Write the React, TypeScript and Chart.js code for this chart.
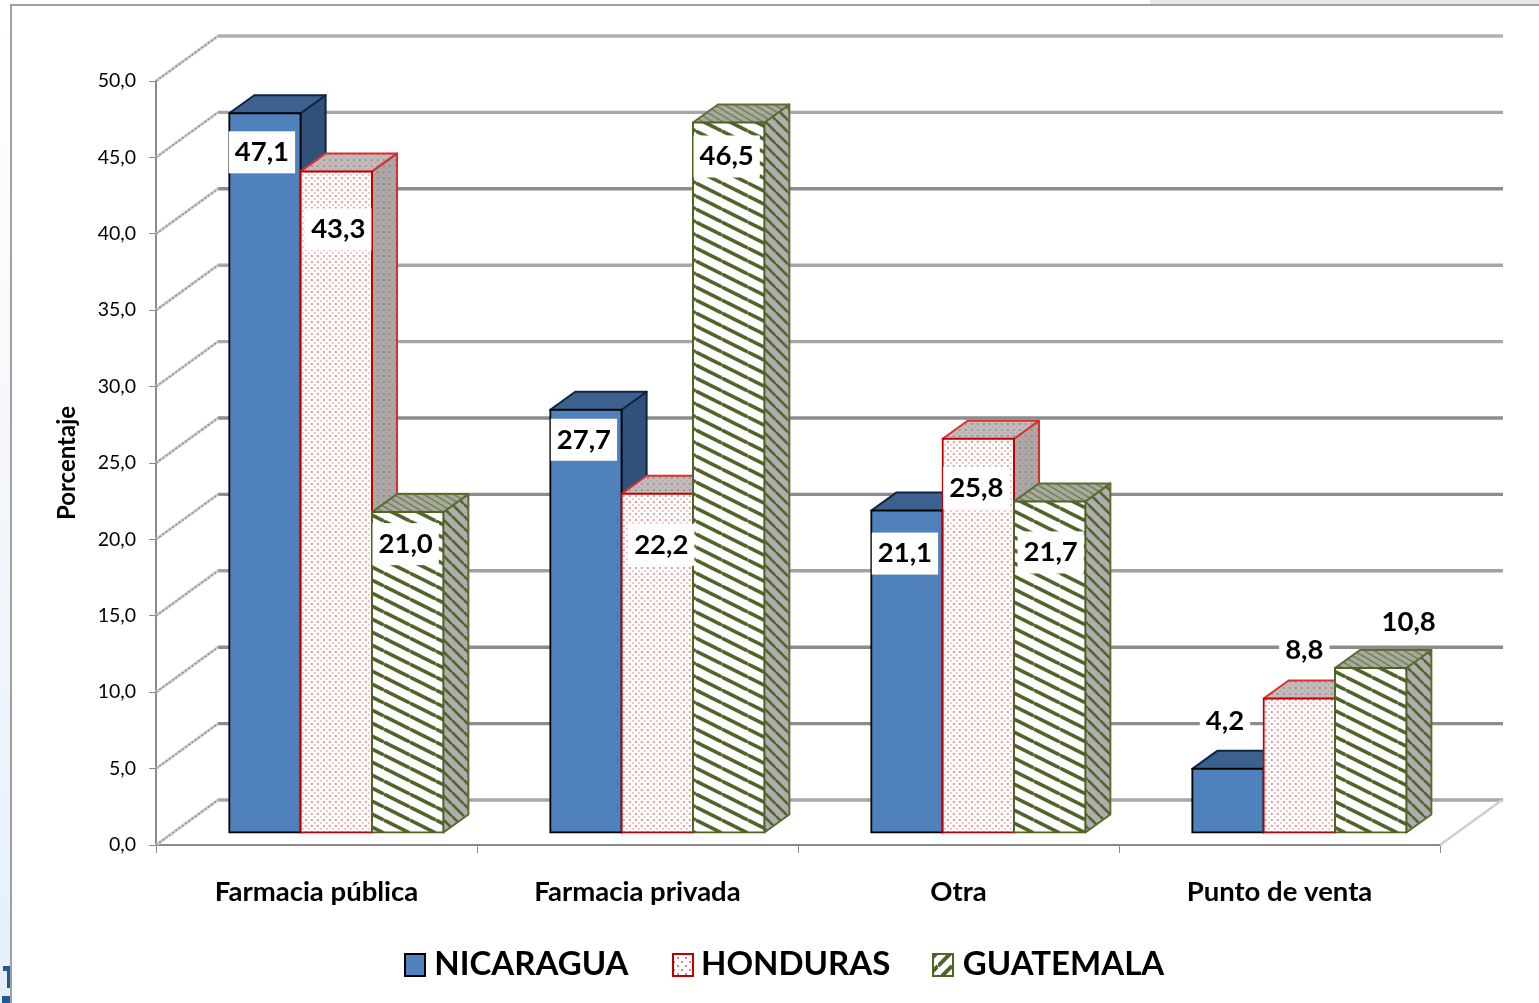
import React, { useEffect, useRef } from "react";
import { Chart, registerables } from "chart.js";

Chart.register(...registerables);

const categories = ["Farmacia pública", "Farmacia privada", "Otra", "Punto de venta"];
const nicaragua = [47.1, 27.7, 21.1, 4.2];
const honduras = [43.3, 22.2, 25.8, 8.8];
const guatemala = [21.0, 46.5, 21.7, 10.8];
const seriesNames = ["NICARAGUA", "HONDURAS", "GUATEMALA"];

const FONT = "Lato, 'Open Sans', sans-serif";
const WALL = { dx: 62, dy: -45 };
const SHIFT = { dx: 19.8, dy: -12 };
const DEPTH = { dx: 25, dy: -18 };
// manual placement of the value labels relative to bar top centre
const labelNudges = [
  [[-3, 39], [-2, 30], [-2, 43], [-3, -48]],
  [[2, 58], [4, 51], [-2, 49], [5, -48]],
  [[-2, 32], [-2, 34], [1, 51], [38, -46]],
];
const swatchLefts = [404, 672, 932];
const gridShades = ["#a6a6a6", "#8c8c8c", "#8c8c8c", "#a0a0a0", "#8c8c8c", "#8c8c8c", "#a6a6a6", "#a6a6a6", "#8c8c8c", "#a6a6a6", "#b0b0b0"];

const fmt = (v: number) => v.toFixed(1).replace(".", ",");

function tile(w: number, h: number, paint: (c: CanvasRenderingContext2D) => void) {
  const cv = document.createElement("canvas");
  cv.width = w;
  cv.height = h;
  const c = cv.getContext("2d")!;
  paint(c);
  return c.createPattern(cv, "repeat")!;
}
const dots = (bg: string, a: string, b: string) =>
  tile(6, 6, (c) => {
    c.fillStyle = bg;
    c.fillRect(0, 0, 6, 6);
    c.fillStyle = a;
    c.fillRect(0, 0, 2, 2);
    c.fillStyle = b;
    c.fillRect(3, 3, 2, 2);
  });
const stripes = (bg: string, fg: string, w: number, h: number, lw: number, rising = false) =>
  tile(w, h, (c) => {
    c.fillStyle = bg;
    c.fillRect(0, 0, w, h);
    c.strokeStyle = fg;
    c.lineWidth = lw;
    for (const k of [-1, 0, 1]) {
      c.beginPath();
      if (rising) {
        c.moveTo(0, h + k * h);
        c.lineTo(w, k * h);
      } else {
        c.moveTo(0, k * h);
        c.lineTo(w, h + k * h);
      }
      c.stroke();
    }
  });

export default function App() {
  const ref = useRef<HTMLCanvasElement>(null);
  useEffect(() => {
    const styles = [
      {
        front: "#4f81bd",
        side: "#31507a",
        top: "#3c618e",
        edge: "#000000",
        faceEdge: "#0f2544",
        swatch: "#4f81bd",
      },
      {
        front: dots("#ffffff", "#f0c4c4", "#e09a9a"),
        side: dots("#a9a9a9", "#b89a9a", "#a58585"),
        top: dots("#bdbdbd", "#c8a8a8", "#b08e8e"),
        edge: "#c00000",
        faceEdge: "#d83030",
        swatch: tile(8, 8, (c) => {
          c.fillStyle = "#fff";
          c.fillRect(0, 0, 8, 8);
          c.fillStyle = "#d88";
          c.fillRect(1, 1, 2, 2);
          c.fillRect(5, 5, 2, 2);
        }),
      },
      {
        front: stripes("#ffffff", "#4f6228", 26, 13, 3.6),
        side: stripes("#aeaeae", "#4f6228", 12, 12, 2.6),
        top: stripes("#a8ab9c", "#6f7d58", 10, 6, 1.5),
        edge: "#4f6228",
        faceEdge: "#5a6e33",
        swatch: stripes("#ffffff", "#4f6228", 14, 14, 4, true),
      },
    ];

    const scene = {
      id: "scene3d",
      afterLayout(chart: any) {
        const lg = chart.legend;
        const dx = 784 - (lg.left + lg.right) / 2;
        const dy = 906 - lg.top;
        lg.left += dx;
        lg.right += dx;
        lg.top += dy;
        lg.bottom = 1003;
      },
      beforeDraw(chart: any) {
        const c = chart.ctx;
        c.save();
        c.fillStyle = "#ffffff";
        c.fillRect(0, 0, 1539, 1003);
        const g = c.createLinearGradient(0, 0, 0, 1003);
        g.addColorStop(0, "#ffffff");
        g.addColorStop(1, "#e6eff8");
        c.fillStyle = g;
        c.fillRect(0, 0, 10, 1003);
        c.fillStyle = "#e4e6e8";
        c.fillRect(1150, 0, 389, 4);
        c.fillStyle = "#a0a0a0";
        c.fillRect(10, 4, 1529, 2);
        c.fillRect(10, 4, 2, 999);
        c.fillStyle = "#1f5a96";
        c.fillRect(3, 966, 7, 5);
        c.fillRect(7, 966, 3, 22);
        c.fillRect(2, 996, 8, 7);
        c.restore();
      },
      beforeDatasetsDraw(chart: any) {
        const c = chart.ctx;
        const y = chart.scales.y;
        const { left, right } = chart.chartArea;
        c.save();
        // side wall and back wall lines
        y.ticks.forEach((t: any, i: number) => {
          const p = y.getPixelForValue(t.value);
          c.lineWidth = 3.4;
          c.strokeStyle = gridShades[i % gridShades.length];
          c.beginPath();
          c.moveTo(left + WALL.dx, p + WALL.dy);
          c.lineTo(right + WALL.dx + 1, p + WALL.dy);
          c.stroke();
          c.lineWidth = 3;
          c.strokeStyle = "#cfcfcf";
          c.beginPath();
          c.moveTo(left, p);
          c.lineTo(left + WALL.dx, p + WALL.dy);
          c.stroke();
          c.strokeStyle = "#8f8f8f";
          c.setLineDash([2, 2]);
          c.lineWidth = 1.5;
          c.beginPath();
          c.moveTo(left, p);
          c.lineTo(left + WALL.dx, p + WALL.dy);
          c.stroke();
          c.setLineDash([]);
        });
        // floor edge on the right
        const p0 = y.getPixelForValue(0);
        c.strokeStyle = "#cfcfcf";
        c.lineWidth = 2.5;
        c.beginPath();
        c.moveTo(right, p0);
        c.lineTo(right + WALL.dx, p0 + WALL.dy);
        c.stroke();

        // bars, left to right, each with its top and side face
        chart.data.datasets.forEach((_: any, di: number) => {
          const st = styles[di];
          chart.getDatasetMeta(di).data.forEach((el: any) => {
            const { x, y: top, base, width } = el.getProps(["x", "y", "base", "width"], true);
            const l = x - width / 2;
            const r = x + width / 2;
            c.save();
            c.translate(SHIFT.dx, SHIFT.dy);
            c.lineJoin = "round";
            c.lineWidth = 2;
            c.strokeStyle = st.faceEdge;
            c.fillStyle = st.side;
            c.beginPath();
            c.moveTo(r, top);
            c.lineTo(r + DEPTH.dx, top + DEPTH.dy);
            c.lineTo(r + DEPTH.dx, base + DEPTH.dy);
            c.lineTo(r, base);
            c.closePath();
            c.fill();
            c.stroke();
            c.fillStyle = st.top;
            c.beginPath();
            c.moveTo(l, top);
            c.lineTo(l + DEPTH.dx, top + DEPTH.dy);
            c.lineTo(r + DEPTH.dx, top + DEPTH.dy);
            c.lineTo(r, top);
            c.closePath();
            c.fill();
            c.stroke();
            el.draw(c);
            c.restore();
          });
        });

        // value labels on white plates
        c.font = `bold 27.5px ${FONT}`;
        c.textAlign = "center";
        c.textBaseline = "middle";
        chart.data.datasets.forEach((ds: any, di: number) => {
          chart.getDatasetMeta(di).data.forEach((el: any, k: number) => {
            const { x, y: top } = el.getProps(["x", "y"], true);
            const [nx, ny] = labelNudges[di][k];
            const cx = x + SHIFT.dx + nx;
            const cy = top + SHIFT.dy + ny;
            const text = fmt(ds.data[k]);
            const w = c.measureText(text).width + 12;
            c.fillStyle = "#ffffff";
            c.fillRect(cx - w / 2, cy - 21, w, 42);
            c.fillStyle = "#000000";
            c.fillText(text, cx, cy);
          });
        });
        c.restore();
        return false;
      },
      afterDraw(chart: any) {
        // legend swatches, drawn beside the legend's own text
        const c = chart.ctx;
        swatchLefts.forEach((bx, i) => {
          const st = styles[i];
          const by = 953;
          c.save();
          c.fillStyle = st.swatch;
          c.fillRect(bx, by, 22, 24);
          c.strokeStyle = st.edge;
          c.lineWidth = 2;
          c.strokeRect(bx + 1, by + 1, 20, 22);
          c.restore();
        });
      },
    };

    const mk = (label: string, data: number[], i: number) => ({
      label,
      data,
      backgroundColor: styles[i].front,
      borderColor: styles[i].edge,
      borderWidth: 2,
      borderSkipped: false,
      inflateAmount: 1,
      categoryPercentage: 0.667,
      barPercentage: 1,
    });

    const chart = new Chart(ref.current!, {
      type: "bar",
      data: {
        labels: categories,
        datasets: [
          mk(seriesNames[0], nicaragua, 0),
          mk(seriesNames[1], honduras, 1),
          mk(seriesNames[2], guatemala, 2),
        ],
      },
      plugins: [scene],
      options: {
        responsive: false,
        animation: false,
        devicePixelRatio: 1,
        layout: { padding: { left: 48, right: 99, top: 81, bottom: 0 } },
        plugins: {
          tooltip: { enabled: false },
          legend: {
            position: "bottom",
            labels: {
              boxWidth: 14,
              boxHeight: 24,
              padding: 42,
              color: "#000",
              font: { family: FONT, weight: "bold", size: 33 },
              generateLabels: () =>
                seriesNames.map((text, i) => ({
                  text,
                  datasetIndex: i,
                  fillStyle: "rgba(0,0,0,0)",
                  strokeStyle: "rgba(0,0,0,0)",
                  lineWidth: 0,
                  fontColor: "#000",
                })),
            },
          },
        },
        scales: {
          x: {
            afterFit(s: any) {
              s.height = Math.max(4, 158 - (s.chart.legend?.height ?? 0));
            },
            border: { color: "#8a8a8a", width: 2 },
            grid: { drawOnChartArea: false, drawTicks: true, tickLength: 8, color: "#8a8a8a", tickColor: "#8a8a8a", offset: true },
            ticks: {
              color: "#000",
              maxRotation: 0,
              padding: 23,
              font: { family: FONT, weight: "bold", size: 27.5 },
            },
          },
          y: {
            min: 0,
            max: 50,
            afterFit(s: any) {
              s.width = 108;
            },
            border: { color: "#8a8a8a", width: 2 },
            grid: { drawOnChartArea: false, drawTicks: true, tickLength: 7, tickColor: "#8a8a8a" },
            title: {
              display: true,
              text: "Porcentaje",
              color: "#000",
              padding: { top: 5, bottom: 0 },
              font: { family: FONT, weight: "bold", size: 24 },
            },
            ticks: {
              stepSize: 5,
              color: "#000",
              padding: 13,
              callback: (v: any) => fmt(Number(v)),
              font: { family: FONT, size: 19.5 },
            },
          },
        },
      },
    } as any);
    return () => chart.destroy();
  }, []);
  return (
    <div style={{ position: "absolute", left: 0, top: 0, width: 1539, height: 1003 }}>
      <canvas ref={ref} width={1539} height={1003} style={{ display: "block" }} />
    </div>
  );
}
